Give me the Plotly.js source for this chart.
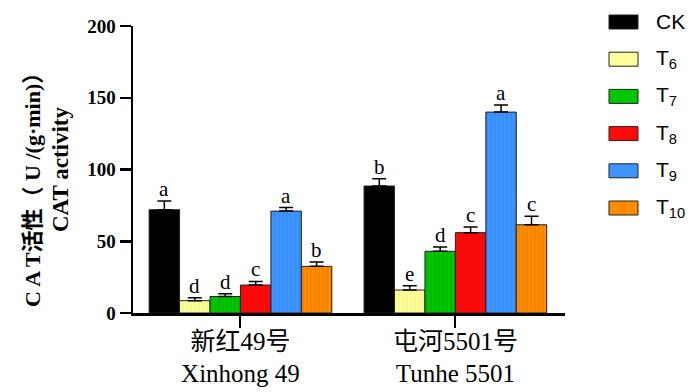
<!DOCTYPE html>
<html>
<head>
<meta charset="utf-8">
<script src="https://cdn.plot.ly/plotly-3.0.1.min.js"></script>
<style>html,body{margin:0;padding:0;background:#fff}#chart{width:700px;height:392px}</style>
</head>
<body>
<div id="chart"></div>
<script>
// ---- data ----
const categories = ["新红49号<br>Xinhong 49", "屯河5501号<br>Tunhe 5501"];
const seriesNames = ["CK", "T<sub>6</sub>", "T<sub>7</sub>", "T<sub>8</sub>", "T<sub>9</sub>", "T<sub>10</sub>"];
const ckValues  = [72, 88.5];
const t6Values  = [8.6, 16];
const t7Values  = [11.5, 43];
const t8Values  = [19.5, 56];
const t9Values  = [71, 140];
const t10Values = [32.5, 61.5];
const ckErr  = [6, 5];
const t6Err  = [2, 3];
const t7Err  = [2, 3];
const t8Err  = [2.5, 4];
const t9Err  = [2.5, 5];
const t10Err = [3, 6];
const ckLetters  = ["a", "b"];
const t6Letters  = ["d", "e"];
const t7Letters  = ["d", "d"];
const t8Letters  = ["c", "c"];
const t9Letters  = ["a", "a"];
const t10Letters = ["b", "c"];
const yTicks = [0, 50, 100, 150, 200];

// ---- styles ----
const values = [ckValues, t6Values, t7Values, t8Values, t9Values, t10Values];
const errs = [ckErr, t6Err, t7Err, t8Err, t9Err, t10Err];
const letters = [ckLetters, t6Letters, t7Letters, t8Letters, t9Letters, t10Letters];
const colors = ["#000000", "#ffff99", "#00c800", "#ff0a0a", "#3d96ff", "#ff8c00"];
const patFg = [null, "#d8d870", "#007000", "#c00000", "#1f66cc", "#b85a00"];

const L = 133, R = 565, T = 26, B = 313, W = 700, H = 392;
const px = x => (x - L) / (R - L);
const py = y => (B - y) / (B - T);

const serif = "Liberation Serif, Times New Roman, Noto Sans CJK SC, serif";
const nSeries = values.length;
const bargap = 0.15;
const barW = (1 - bargap) / nSeries;

const traces = values.map((v, i) => ({
  type: "bar",
  name: seriesNames[i],
  x: categories,
  y: v,
  marker: {
    color: colors[i],
    line: {color: "#222", width: 1},
    pattern: patFg[i] ? {shape: "|", fillmode: "replace", bgcolor: colors[i], fgcolor: patFg[i], fgopacity: 0.6, size: 4, solidity: 0.15} : {shape: ""}
  },
  error_y: {type: "data", symmetric: false, array: errs[i], arrayminus: v.map(() => 0),
            color: "#000", thickness: 1.5, width: 7},
  showlegend: false,
  hoverinfo: "y"
}));

const annotations = [];
values.forEach((v, i) => {
  v.forEach((val, g) => {
    annotations.push({
      xref: "x", yref: "y",
      x: g + (i - (nSeries - 1) / 2) * barW,
      y: val + errs[i][g],
      text: letters[i][g],
      showarrow: false, yanchor: "bottom", yshift: -2,
      font: {family: serif, size: 21, color: "#000"}
    });
  });
});

// y-axis title lines
annotations.push({xref: "paper", yref: "paper", x: px(32), y: py(185), textangle: -90,
  text: "C A T活性（ U /(g·min)）", showarrow: false, xanchor: "center", yanchor: "middle",
  font: {family: serif, size: 22, color: "#000", weight: "bold"}});
annotations.push({xref: "paper", yref: "paper", x: px(60), y: py(170), textangle: -90,
  text: "CAT activity", showarrow: false, xanchor: "center", yanchor: "middle",
  font: {family: serif, size: 23, color: "#000", weight: "bold"}});

// custom legend
const shapes = [];
const legY0 = 22, legStep = 37.2;
seriesNames.forEach((n, i) => {
  const cy = legY0 + i * legStep;
  shapes.push({type: "rect", xref: "paper", yref: "paper",
    x0: px(609), x1: px(638), y0: py(cy + 7), y1: py(cy - 7),
    fillcolor: colors[i], line: {color: "#222", width: 1}});
  annotations.push({xref: "paper", yref: "paper", x: px(654), y: py(cy),
    text: n, showarrow: false, xanchor: "left", yanchor: "middle",
    font: {family: "Liberation Sans, Arial, sans-serif", size: 21, color: "#000"}});
});

const layout = {
  width: W, height: H,
  margin: {l: L, r: W - R, t: T, b: H - B, pad: 0},
  paper_bgcolor: "#fff", plot_bgcolor: "#fff",
  barmode: "group", bargap: bargap, bargroupgap: 0,
  showlegend: false,
  xaxis: {
    type: "category", range: [-0.5, 1.51],
    showline: true, linecolor: "#000", linewidth: 2.5,
    ticks: "outside", ticklen: 12, tickwidth: 2, tickcolor: "#000",
    ticklabelstandoff: -8,
    showgrid: false, zeroline: false,
    tickfont: {family: serif, size: 25, color: "#000"}
  },
  yaxis: {
    range: [0, 200], tickvals: yTicks,
    showline: true, linecolor: "#000", linewidth: 2.5,
    ticks: "outside", ticklen: 11, tickwidth: 2.5, tickcolor: "#000",
    showgrid: false, zeroline: false,
    tickfont: {family: serif, size: 19, color: "#000", weight: "bold"}
  },
  annotations: annotations,
  shapes: shapes
};

Plotly.newPlot("chart", traces, layout, {displayModeBar: false, staticPlot: true});
</script>
</body>
</html>
